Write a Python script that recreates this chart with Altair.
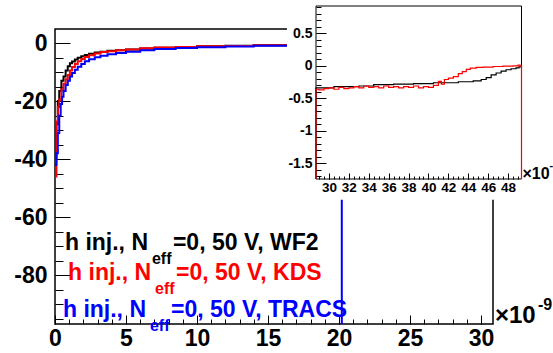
import altair as alt
import pandas as pd

# ---------------- data ----------------
wf2_x = [0.0, 0.1, 0.2, 0.3, 0.45, 0.6, 0.75, 0.9, 1.05, 1.2, 1.4, 1.6, 1.85, 2.1, 2.4, 2.8, 3.2, 3.7, 4.3, 5.0,
         6.0, 7.0, 8.5, 10.0, 12.0, 14.0, 16.5, 20.0, 24.0, 28.0, 30.5, 33.0, 34.5, 36.5, 38.5, 40.5, 43.0, 44.5,
         45.3, 45.8, 46.3, 46.8, 47.3, 47.8, 48.3, 48.8, 49.1, 49.35]
wf2_y = [-40, -28, -20, -16.5, -13, -11.5, -9.5, -8, -7, -6.4, -5.7, -5.1, -4.6, -4.1, -3.7, -3.3, -3.0, -2.7, -2.45,
         -2.2, -1.85, -1.6, -1.35, -1.15, -0.95, -0.8, -0.62, -0.5, -0.42, -0.34, -0.32, -0.31, -0.29, -0.28, -0.275,
         -0.26, -0.245, -0.23, -0.21, -0.18, -0.14, -0.11, -0.08, -0.06, -0.045, -0.03, -0.015, -0.01]

kds_x = [0.0, 0.1, 0.2, 0.3, 0.45, 0.6, 0.75, 0.9, 1.05, 1.2, 1.4, 1.6, 1.85, 2.1, 2.4, 2.8, 3.2, 3.7, 4.3, 5.0,
         6.0, 7.0, 8.5, 10.0, 12.0, 14.0, 16.5, 20.0, 24.0, 28.0,
         28.6, 29.0, 29.5, 30.0, 30.5, 31.0, 31.5, 32.0, 32.5, 33.0, 33.5, 34.0, 34.5, 35.0, 35.5, 36.0, 36.5, 37.0,
         37.5, 38.0, 38.5, 39.0, 39.5, 40.0, 40.5, 41.0, 41.3, 41.6, 42.0, 42.5, 43.0, 43.4, 43.8, 44.2, 44.8, 45.5,
         46.5, 47.5, 48.5, 49.0, 49.2, 49.4]
kds_y = [-46, -27, -22, -19.5, -16, -14, -12.5, -11, -9.5, -8.3, -7.2, -6.3, -5.5, -4.8, -4.2, -3.6, -3.1, -2.8, -2.5,
         -2.2, -1.8, -1.55, -1.35, -1.15, -1.0, -0.8, -0.65, -0.5, -0.42, -0.36,
         -0.36, -0.37, -0.35, -0.34, -0.36, -0.33, -0.35, -0.34, -0.32, -0.34, -0.31, -0.33, -0.32, -0.34, -0.31,
         -0.33, -0.32, -0.34, -0.32, -0.33, -0.31, -0.34, -0.32, -0.33, -0.30, -0.24, -0.28, -0.21, -0.19, -0.165,
         -0.12, -0.09, -0.055, -0.035, -0.025, -0.02, -0.01, -0.005, 0.0, 0.01, 0.0, -2.0]

tracs_x = [0.0, 0.1, 0.2, 0.3, 0.4, 0.5, 0.6, 0.75, 0.9, 1.05, 1.2, 1.4, 1.6, 1.85, 2.1, 2.4, 2.8, 3.2, 3.7, 4.3,
           5.0, 6.0, 7.0, 8.5, 10.0, 12.0, 14.0, 16.5, 18.5, 20.2]
tracs_y = [-42, -38, -31, -25, -21, -18.5, -16.5, -14.5, -13, -11.5, -10.3, -9.2, -8.2, -7.2, -6.3, -5.6, -4.9, -4.4,
           -3.9, -3.4, -3.0, -2.5, -2.1, -1.75, -1.45, -1.2, -0.95, -0.75, -0.62, -100]

legend_names = ["WF2", "KDS", "TRACS"]
legend_colors = ["#000000", "#ff0000", "#0000ff"]

main_x_labels = [0, 5, 10, 15, 20, 25, 30]
main_y_labels = [0, -20, -40, -60, -80]
inset_x_labels = [30, 32, 34, 36, 38, 40, 42, 44, 46, 48]
inset_y_labels = [0.5, 0, -0.5, -1, -1.5]

# ---------------- layout ----------------
FONT = "Liberation Sans"
W, H = 438, 295
X_DOM = [0, 30.85]
Y_DOM = [-96.8, 4.83]
IX_DOM = [28.7, 49.35]
IY_DOM = [-1.74, 0.92]

main_x_minor = list(range(0, 31))
main_y_minor = list(range(0, -100, -5))
inset_x_minor = [round(29.0 + 0.5 * i, 2) for i in range(41)]
inset_y_minor = [round(-1.7 + 0.1 * i, 2) for i in range(27)]

mx = alt.Scale(domain=X_DOM, nice=False, zero=False)
my = alt.Scale(domain=Y_DOM, nice=False, zero=False)
ix = alt.Scale(domain=IX_DOM, range=[261, 466.5], nice=False, zero=False, clamp=True)
iy = alt.Scale(domain=IY_DOM, range=[150, -23], nice=False, zero=False, clamp=True)

PLAIN = "'' + datum.value"


def ax(**kw):
    base = dict(title=None, grid=False, domain=False, labelFont=FONT, labelFontWeight="bold",
                labelColor="black", tickColor="black", labelFlush=False, labelOverlap=False)
    base.update(kw)
    return alt.Axis(**base)


def series(xs, ys):
    return pd.DataFrame({"x": xs, "y": ys, "i": list(range(len(xs)))})


df_wf2 = series(wf2_x, wf2_y)
df_kds = series(kds_x, kds_y)
df_tracs = series(tracs_x, tracs_y)

# ---------------- main plot ----------------
frame_main = alt.Chart(pd.DataFrame({"x": [X_DOM[0]], "x2": [X_DOM[1]], "y": [Y_DOM[0]], "y2": [Y_DOM[1]]})).mark_rect(
    fillOpacity=0, stroke="black", strokeWidth=1.5).encode(
    x=alt.X("x:Q", scale=mx, axis=None), x2="x2:Q", y=alt.Y("y:Q", scale=my, axis=None), y2="y2:Q")


def main_curve(df, color, xaxis, yaxis):
    return alt.Chart(df).mark_line(interpolate="step-after", clip=True, color=color, strokeWidth=2).encode(
        x=alt.X("x:Q", scale=mx, axis=xaxis), y=alt.Y("y:Q", scale=my, axis=yaxis), order="i:Q")


c_black = main_curve(df_wf2, "#000000",
                     ax(orient="bottom", values=main_x_labels, ticks=False, labelFontSize=23, labelPadding=3,
                        labelExpr=PLAIN),
                     ax(orient="left", values=main_y_labels, ticks=False, labelFontSize=23, labelPadding=8,
                        labelExpr=PLAIN))
c_red = main_curve(df_kds, "#ff0000",
                   ax(orient="top", offset=-H, values=main_x_labels, labels=False, tickSize=9, tickWidth=1),
                   ax(orient="right", offset=-W, values=main_y_labels, labels=False, tickSize=15, tickWidth=1))
c_blue = main_curve(df_tracs, "#0000ff",
                    ax(orient="top", offset=-H, values=main_x_minor, labels=False, tickSize=5, tickWidth=1),
                    ax(orient="right", offset=-W, values=main_y_minor, labels=False, tickSize=8, tickWidth=1))

leg = pd.DataFrame({
    "name": legend_names, "color": legend_colors,
    "x": [0.70, 0.92, 0.56], "y": [-71.3, -81.6, -94.3],
})
leg["head"] = "h inj., N"
leg["sub"] = "eff"
leg["tail"] = "=0, 50 V, " + leg["name"]


def leg_text(field, size, dx, dy):
    return alt.Chart(leg).mark_text(align="left", baseline="alphabetic", font=FONT, fontWeight="bold",
                                    fontSize=size, dx=dx, dy=dy).encode(
        x=alt.X("x:Q", scale=mx, axis=None), y=alt.Y("y:Q", scale=my, axis=None),
        text=f"{field}:N", color=alt.Color("color:N", scale=None))


mult_main = pd.DataFrame({"x": [X_DOM[1]], "y": [-94.0], "t": ["\u00d710"], "s": ["-9"]})
mm1 = alt.Chart(mult_main).mark_text(align="left", baseline="middle", font=FONT, fontWeight="bold",
                                     fontSize=24, dx=2, color="black").encode(
    x=alt.X("x:Q", scale=mx, axis=None), y=alt.Y("y:Q", scale=my, axis=None), text="t:N")
mm2 = alt.Chart(mult_main).mark_text(align="left", baseline="middle", font=FONT, fontWeight="bold",
                                     fontSize=16, dx=45, dy=-11, color="black").encode(
    x=alt.X("x:Q", scale=mx, axis=None), y=alt.Y("y:Q", scale=my, axis=None), text="s:N")

pad = alt.Chart(pd.DataFrame({"x": [16.34], "x2": [36.0], "y": [-54.0], "y2": [16.0]})).mark_rect(
    fill="white", clip=False).encode(
    x=alt.X("x:Q", scale=mx, axis=None), x2="x2:Q", y=alt.Y("y:Q", scale=my, axis=None), y2="y2:Q")

main = alt.layer(frame_main, c_black, c_red, c_blue,
                 leg_text("head", 23, 0, 0), leg_text("sub", 16, 87, 14), leg_text("tail", 23, 108, 0),
                 mm1, mm2, pad).resolve_axis(x="independent", y="independent")

# ---------------- inset ----------------
frame_inset = alt.Chart(pd.DataFrame({"x": [IX_DOM[0]], "x2": [IX_DOM[1]], "y": [IY_DOM[0]], "y2": [IY_DOM[1]]})).mark_rect(
    fillOpacity=0, stroke="black", strokeWidth=1).encode(
    x=alt.X("x:Q", scale=ix, axis=ax(orient="bottom", offset=-145, values=inset_x_labels, ticks=False,
                                     labelFontSize=13.5, labelPadding=1, zindex=1, labelExpr=PLAIN)),
    x2="x2:Q",
    y=alt.Y("y:Q", scale=iy, axis=ax(orient="left", offset=-261, values=inset_y_labels, ticks=False,
                                     labelFontSize=14, labelPadding=4, zindex=1, labelExpr=PLAIN)),
    y2="y2:Q")


def inset_curve(df, color, xaxis, yaxis):
    return alt.Chart(df).mark_line(interpolate="step-after", color=color, strokeWidth=1.2).encode(
        x=alt.X("x:Q", scale=ix, axis=xaxis), y=alt.Y("y:Q", scale=iy, axis=yaxis), order="i:Q")


i_black = inset_curve(df_wf2, "#000000",
                      ax(orient="top", offset=-150, values=inset_x_labels, labels=False, tickSize=6, zindex=1),
                      ax(orient="right", offset=-177, values=inset_y_labels, labels=False, tickSize=10, zindex=1))
i_red = inset_curve(df_kds, "#ff0000",
                    ax(orient="top", offset=-150, values=inset_x_minor, labels=False, tickSize=3, zindex=1),
                    ax(orient="right", offset=-177, values=inset_y_minor, labels=False, tickSize=5, zindex=1))

mult_inset = pd.DataFrame({"x": [IX_DOM[1]], "y": [-1.66], "t": ["\u00d710"], "s": ["-9"]})
im1 = alt.Chart(mult_inset).mark_text(align="left", baseline="middle", font=FONT, fontWeight="bold",
                                      fontSize=16, dx=1, color="black").encode(
    x=alt.X("x:Q", scale=ix, axis=None), y=alt.Y("y:Q", scale=iy, axis=None), text="t:N")
im2 = alt.Chart(mult_inset).mark_text(align="left", baseline="middle", font=FONT, fontWeight="bold",
                                      fontSize=11, dx=28, dy=-8, color="black").encode(
    x=alt.X("x:Q", scale=ix, axis=None), y=alt.Y("y:Q", scale=iy, axis=None), text="s:N")

inset = alt.layer(frame_inset, i_black, i_red, im1, im2).resolve_axis(x="independent", y="independent")

chart = alt.layer(main, inset).resolve_scale(x="independent", y="independent").properties(
    width=W, height=H,
    padding={"left": 55, "top": 29, "right": 60, "bottom": 29},
    autosize=alt.AutoSizeParams(type="none"),
).configure_view(strokeWidth=0)

chart.save("out.html", embed_options={"renderer": "svg", "actions": False})
